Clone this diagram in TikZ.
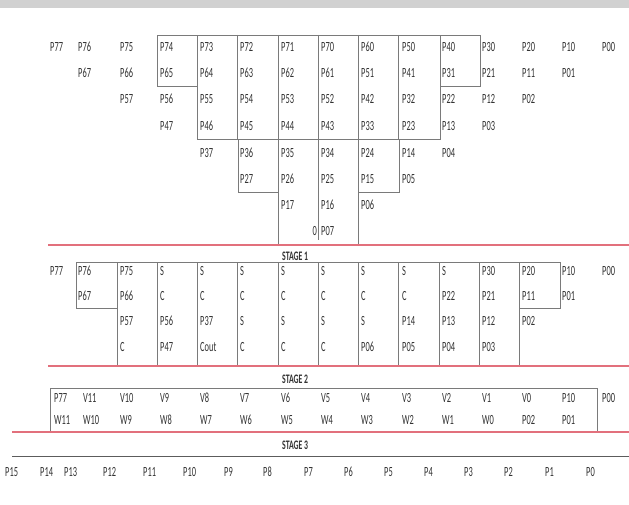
\documentclass[tikz,border=0pt]{standalone}
\usepackage{fontspec}
\newfontfamily\cf[FakeStretch=0.6]{Carlito}
\definecolor{txt}{HTML}{333333}
\definecolor{boxc}{HTML}{7A7A7A}
\definecolor{redl}{HTML}{E2707C}
\begin{document}
\begin{tikzpicture}[x=1pt,y=-1pt,
  lab/.style={anchor=west,inner sep=0pt,font=\cf\fontsize{14}{14}\selectfont,text=txt},
  stg/.style={anchor=west,inner sep=0pt,font=\cf\bfseries\fontsize{13}{13}\selectfont,text=txt},
  boxline/.style={draw=boxc,line width=0.9pt},
  redline/.style={draw=redl,line width=1.1pt},
  blackline/.style={draw=txt!80,line width=1pt}]
\useasboundingbox (0,0) rectangle (629,505);
\fill[white] (0,0) rectangle (629,505);
\fill[black!18] (0,0) rectangle (629,8);
\def\colxs{{50,78,120,160,200,240,281,321,361,402,442,482,522,562,602}}
% ---------- top block ----------
\foreach \t [count=\i from 1] in {P77,P76,P75,P74,P73,P72,P71,P70,P60,P50,P40,P30,P20,P10,P00}
  {\pgfmathsetmacro\xx{\colxs[\i-1]}\node[lab] (top-\t) at (\xx,47) {\t};}
\foreach \t [count=\i from 2] in {P67,P66,P65,P64,P63,P62,P61,P51,P41,P31,P21,P11,P01}
  {\pgfmathsetmacro\xx{\colxs[\i-1]}\node[lab] (top-\t) at (\xx,73) {\t};}
\foreach \t [count=\i from 3] in {P57,P56,P55,P54,P53,P52,P42,P32,P22,P12,P02}
  {\pgfmathsetmacro\xx{\colxs[\i-1]}\node[lab] (top-\t) at (\xx,99) {\t};}
\foreach \t [count=\i from 4] in {P47,P46,P45,P44,P43,P33,P23,P13,P03}
  {\pgfmathsetmacro\xx{\colxs[\i-1]}\node[lab] (top-\t) at (\xx,126) {\t};}
\foreach \t [count=\i from 5] in {P37,P36,P35,P34,P24,P14,P04}
  {\pgfmathsetmacro\xx{\colxs[\i-1]}\node[lab] (top-\t) at (\xx,153) {\t};}
\foreach \t [count=\i from 6] in {P27,P26,P25,P15,P05}
  {\pgfmathsetmacro\xx{\colxs[\i-1]}\node[lab] (top-\t) at (\xx,179) {\t};}
\foreach \t [count=\i from 7] in {P17,P16,P06}
  {\pgfmathsetmacro\xx{\colxs[\i-1]}\node[lab] (top-\t) at (\xx,205) {\t};}
\node[lab] (top-P07) at (321,231) {P07};
\node[lab,anchor=east] (top-zero) at (317,231) {0};
% top block boxes
\draw[boxline] (157,35) rectangle (197,86);
\draw[boxline] (197,35) rectangle (440,139);
\foreach \x in {237.5,278,318,358,398} \draw[boxline] (\x,35) -- (\x,139);
\draw[boxline] (440,35) rectangle (480,86);
\draw[boxline] (238,139) rectangle (278,192);
\draw[boxline] (358,139) rectangle (399,192);
\draw[boxline] (278,192) -- (278,245);
\draw[boxline] (318,139) -- (318,240);
\draw[boxline] (358,192) -- (358,245);
\draw[redline] (48,245) -- (629,245);
\node[stg] (stage1) at (282,256) {STAGE 1};
% ---------- stage 1 ----------
\foreach \t [count=\i from 1] in {P77,P76,P75,S,S,S,S,S,S,S,S,P30,P20,P10,P00}
  {\pgfmathsetmacro\xx{\colxs[\i-1]}\node[lab] (sa-1-\i) at (\xx,271) {\t};}
\foreach \t [count=\i from 2] in {P67,P66,C,C,C,C,C,C,C,P22,P21,P11,P01}
  {\pgfmathsetmacro\xx{\colxs[\i-1]}\node[lab] (sa-2-\i) at (\xx,296) {\t};}
\foreach \t [count=\i from 3] in {P57,P56,P37,S,S,S,S,P14,P13,P12,P02}
  {\pgfmathsetmacro\xx{\colxs[\i-1]}\node[lab] (sa-3-\i) at (\xx,321) {\t};}
\foreach \t [count=\i from 3] in {C,P47,Cout,C,C,C,P06,P05,P04,P03}
  {\pgfmathsetmacro\xx{\colxs[\i-1]}\node[lab] (sa-4-\i) at (\xx,347) {\t};}
\draw[boxline] (76,262) -- (560,262);
\draw[boxline] (76,262) -- (76,308) -- (117,308);
\foreach \x in {117,157,197,237.5,278,318,358,398,439,479,519} \draw[boxline] (\x,262) -- (\x,366);
\draw[boxline] (560,262) -- (560,308) -- (519,308);
\draw[redline] (48,366) -- (629,366);
\node[stg] (stage2) at (282,379) {STAGE 2};
% ---------- stage 2 ----------
\def\colxb{{54,83,120,160,200,240,281,321,361,402,442,482,522,562,602}}
\foreach \t [count=\i from 1] in {P77,V11,V10,V9,V8,V7,V6,V5,V4,V3,V2,V1,V0,P10,P00}
  {\pgfmathsetmacro\xx{\colxb[\i-1]}\node[lab] (sb-1-\i) at (\xx,398) {\t};}
\foreach \t [count=\i from 1] in {W11,W10,W9,W8,W7,W6,W5,W4,W3,W2,W1,W0,P02,P01}
  {\pgfmathsetmacro\xx{\colxb[\i-1]}\node[lab] (sb-2-\i) at (\xx,420) {\t};}
\draw[boxline] (50,432) -- (50,388) -- (597,388) -- (597,432);
\draw[redline] (12,432) -- (629,432);
\node[stg] (stage3) at (282,445) {STAGE 3};
\draw[blackline] (12,456) -- (629,456);
% ---------- stage 3 ----------
\def\colxc{{5,40,64,103,143,183,224,263,304,344,384,424,464,504,545,586}}
\foreach \t [count=\i from 1] in {P15,P14,P13,P12,P11,P10,P9,P8,P7,P6,P5,P4,P3,P2,P1,P0}
  {\pgfmathsetmacro\xx{\colxc[\i-1]}\node[lab] (sc-\i) at (\xx,472) {\t};}
\end{tikzpicture}
\end{document}
